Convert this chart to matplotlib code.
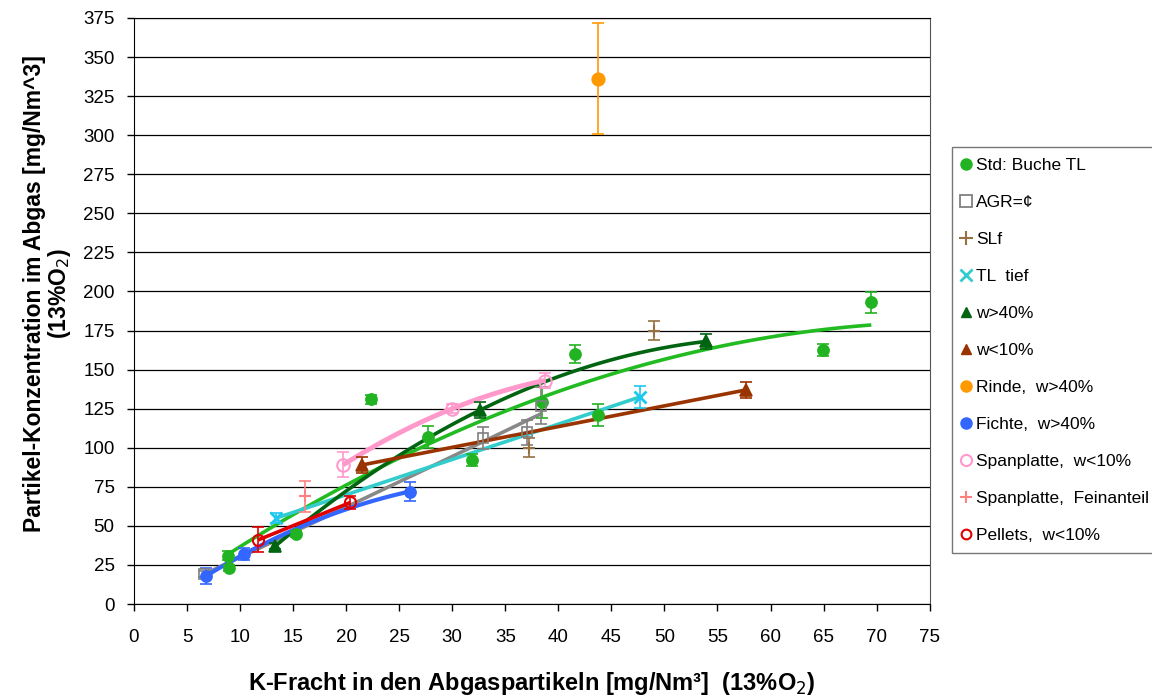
import numpy as np
import matplotlib
matplotlib.use('Agg')
import matplotlib.pyplot as plt
from matplotlib.lines import Line2D

plt.rcParams['font.family'] = ['Liberation Sans', 'DejaVu Sans']

# --- data (x = K-Fracht, y = Partikel, e = error) ---
std_x = [8.9, 9.0, 15.3, 22.3, 27.7, 31.9, 38.5, 41.6, 43.7, 64.9, 69.5]
std_y = [31, 23, 45, 131, 107, 92, 129, 160, 121, 162.5, 193]
std_e = [3, 2, 2, 3, 7, 4, 10, 6, 7, 4, 6.5]

agr_x = [6.6, 32.9, 37.0, 38.4]
agr_y = [19, 106, 110, 127]
agr_e = [2, 7, 8, 12]

slf_x = [37.2, 49.0]
slf_y = [100, 175]
slf_e = [6, 6]

tl_x = [13.4, 47.7]
tl_y = [55, 132.5]
tl_e = [3, 7]

w40_x = [13.3, 32.6, 53.9]
w40_y = [37, 124, 168]
w40_e = [2, 5, 5]

w10_x = [21.5, 57.7]
w10_y = [89, 137]
w10_e = [5, 5]

rinde_x = [43.7]
rinde_y = [336]
rinde_e = [35.5]

fichte_x = [6.8, 10.4, 26.0]
fichte_y = [18, 32, 72]
fichte_e = [5, 4, 6]

span_x = [19.7, 30.0, 38.7]
span_y = [89, 125, 143]
span_e = [8, 3, 5]

fein_x = [16.1]
fein_y = [69]
fein_e = [10]

pel_x = [11.7, 20.4]
pel_y = [41, 65]
pel_e = [8, 4]

fig = plt.figure(figsize=(11.52, 6.97), dpi=100)
ax = fig.add_axes([0.1163, 0.1334, 0.8070 - 0.1163, 0.9742 - 0.1334])


def trend(x, y, color, lw=2.6):
    # Excel-style trendline over the series' own x range
    deg = min(2, len(x) - 1)
    c = np.polyfit(x, y, deg)
    xx = np.linspace(min(x), max(x), 100)
    ax.plot(xx, np.polyval(c, xx), color=color, lw=lw, solid_capstyle='butt', zorder=3)


def points(x, y, e, color, marker, ms=8, mfc=None, mew=1.2):
    ax.errorbar(x, y, yerr=e, fmt='none', ecolor=color, elinewidth=1.2,
                capsize=4.5, capthick=1.2, zorder=4)
    ax.plot(x, y, linestyle='none', marker=marker, ms=ms, color=color,
            mfc=color if mfc is None else mfc, mew=mew, zorder=5)


points(std_x, std_y, std_e, '#22b322', 'o')
points(agr_x, agr_y, agr_e, '#808080', 's', ms=7, mfc='none')
points(slf_x, slf_y, slf_e, '#957040', '+', ms=9, mew=1.5)
points(tl_x, tl_y, tl_e, '#1cc8f0', 'x', ms=9, mew=2)
points(w40_x, w40_y, w40_e, '#006411', '^', ms=8)
points(w10_x, w10_y, w10_e, '#993300', '^', ms=8)
points(rinde_x, rinde_y, rinde_e, '#ff9900', 'o', ms=9)
points(fichte_x, fichte_y, fichte_e, '#3366ff', 'o', ms=8)
points(span_x, span_y, span_e, '#ff99cc', 'o', ms=9, mfc='none', mew=1.5)
points(fein_x, fein_y, fein_e, '#ff8080', '+', ms=9, mew=1.5)
points(pel_x, pel_y, pel_e, '#e00000', 'o', ms=8, mfc='none', mew=1.5)

trend(std_x, std_y, '#22bb22')
trend(agr_x, agr_y, '#888888')
trend(tl_x, tl_y, '#33cccc')
trend(w40_x, w40_y, '#006411')
trend(w10_x, w10_y, '#993300')
trend(fichte_x, fichte_y, '#3366ff', lw=3)
trend(span_x, span_y, '#ff99cc', lw=3.5)
trend(pel_x, pel_y, '#e00000')

ax.set_xlim(0, 75)
ax.set_ylim(0, 375)
ax.set_xticks(np.arange(0, 76, 5))
ax.set_yticks(np.arange(0, 376, 25))
ax.yaxis.grid(True, color='black', lw=0.9)
ax.set_axisbelow(True)
ax.tick_params(axis='both', direction='out', length=5, width=1, labelsize=13.5, colors='black')
ax.tick_params(axis='y', pad=9)
ax.tick_params(axis='x', pad=13)
for s in ['left', 'bottom', 'top']:
    ax.spines[s].set_color('black')
ax.spines['right'].set_color('#555555')

ax.set_xlabel('K-Fracht in den Abgaspartikeln [mg/Nm³]  (13%O$_2$)',
              fontsize=17, fontweight='bold')
ax.xaxis.set_label_coords(0.5, -(683 - 604) / 586, transform=ax.transAxes)
ax.xaxis.label.set_va('center')
ax.set_ylabel('Partikel-Konzentration im Abgas [mg/Nm^3]\n(13%O$_2$)',
              fontsize=16.5, fontweight='bold', linespacing=0.98)
ax.yaxis.set_label_coords(-(134 - 73) / 796, (604 - 294) / 586)

handles = [
    Line2D([], [], ls='none', marker='o', color='#22b322', ms=8, label='Std: Buche TL'),
    Line2D([], [], ls='none', marker='s', color='#808080', mfc='none', ms=8, mew=1.3, label='AGR=¢'),
    Line2D([], [], ls='none', marker='+', color='#957040', ms=10, mew=1.5, label='SLf'),
    Line2D([], [], ls='none', marker='x', color='#33cccc', ms=9, mew=2, label='TL  tief'),
    Line2D([], [], ls='none', marker='^', color='#006411', ms=7, label='w>40%'),
    Line2D([], [], ls='none', marker='^', color='#993300', ms=7, label='w<10%'),
    Line2D([], [], ls='none', marker='o', color='#ff9900', ms=8, label='Rinde,  w>40%'),
    Line2D([], [], ls='none', marker='o', color='#3366ff', ms=8, label='Fichte,  w>40%'),
    Line2D([], [], ls='none', marker='o', color='#ff99cc', mfc='none', ms=8, mew=1.5, label='Spanplatte,  w<10%'),
    Line2D([], [], ls='none', marker='+', color='#ff8080', ms=9, mew=1.5, label='Spanplatte,  Feinanteil'),
    Line2D([], [], ls='none', marker='o', color='#e00000', mfc='none', ms=7, mew=1.5, label='Pellets,  w<10%'),
]
leg = fig.legend(handles=handles, loc='upper left', bbox_to_anchor=(0.826, 0.789),
                 fontsize=12.5, frameon=True, fancybox=False, edgecolor='#555555',
                 handlelength=0.5, handletextpad=0.3, labelspacing=1.26,
                 borderpad=0.6, borderaxespad=0)
leg.get_frame().set_linewidth(1)

fig.savefig('out.png', dpi=100)
